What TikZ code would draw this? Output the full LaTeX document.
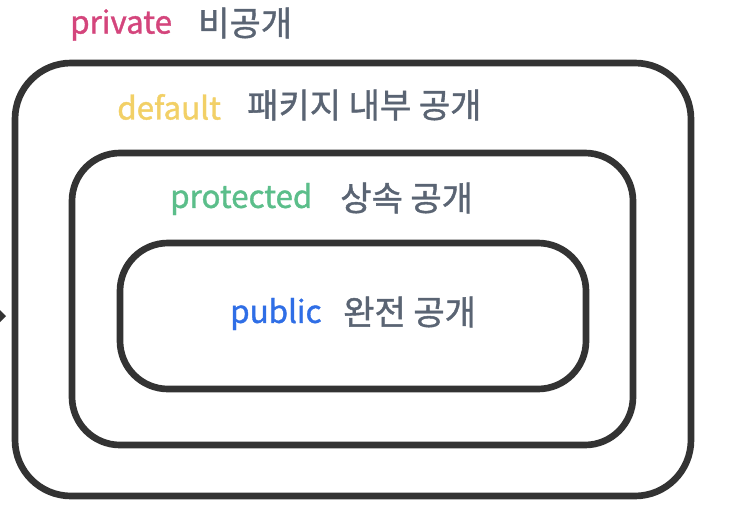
\documentclass[tikz,border=0pt]{standalone}
\usepackage{fontspec}
\setmainfont{Noto Sans CJK KR}
\newfontfamily\medfont{Noto Sans CJK KR}[FakeBold=1.2]
\definecolor{lineC}{HTML}{333333}
\definecolor{privC}{HTML}{D4457C}
\definecolor{defC}{HTML}{F2D066}
\definecolor{protC}{HTML}{5BBE8A}
\definecolor{pubC}{HTML}{2F6EE6}
\definecolor{korC}{HTML}{5A6473}
\begin{document}
\begin{tikzpicture}[x=0.75pt,y=-0.75pt,
  levelbox/.style={draw=lineC,line width=5pt},
  enlbl/.style={anchor=west,inner sep=0pt,font=\medfont\fontsize{23.5}{26}\selectfont},
  kolbl/.style={anchor=west,inner sep=0pt,font=\medfont\fontsize{25.5}{28}\selectfont,text=korC}]
\useasboundingbox (0,0) rectangle (744,532);
\fill[white] (0,0) rectangle (744,532);
% boxes
\draw[levelbox,rounded corners=42pt] (15,63) rectangle (691,496);
\draw[levelbox,rounded corners=36pt] (72,153) rectangle (633,445);
\draw[levelbox,rounded corners=36pt] (120,243) rectangle (586,389);
% small arrow tip at left edge
\fill[lineC] (0,310) coordinate (t1) -- (6,316) coordinate (t2) -- (0,322) coordinate (t3) -- cycle;
% labels
\node[enlbl,text=privC] (priv) at (70,25) {private};
\node[kolbl] (privk) at (198,23) {비공개};
\node[enlbl,text=defC] (def) at (117,107) {default};
\node[kolbl] (defk) at (247,105) {패키지 내부 공개};
\node[enlbl,text=protC] (prot) at (170,199) {protected};
\node[kolbl] (protk) at (340,198) {상속 공개};
\node[enlbl,text=pubC] (pub) at (230,314) {public};
\node[kolbl] (pubk) at (343,312) {완전 공개};
\end{tikzpicture}
\end{document}
